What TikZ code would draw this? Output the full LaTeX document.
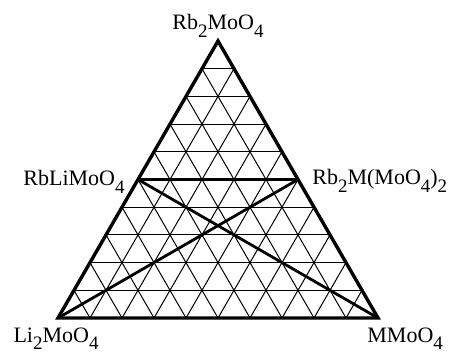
\documentclass[tikz,border=0pt]{standalone}
\usepackage{fontspec}
\setmainfont{Liberation Serif}
\usepackage{tikz}
\usetikzlibrary{calc,positioning}
% large, low subscripts as in the printed figure
\newcommand{\sbs}[1]{\raisebox{-3.8pt}{\fontsize{9.5}{10}\selectfont#1}}

\begin{document}
\begin{tikzpicture}[
  x=0.5pt, y=0.5pt,
  grid/.style={draw=black, line width=0.5pt},
  edge/.style={draw=black, line width=1.7pt, line join=miter},
  tieline/.style={draw=black, line width=1.4pt},
  lbl/.style={inner sep=0, font=\fontsize{11}{13}\selectfont}
]
\useasboundingbox (0,0) rectangle (458,352);
% corners of the composition triangle
\coordinate (li) at (58,34);
\coordinate (m) at (378,34);
\coordinate (rb) at (218,311);
\coordinate (rbli) at ($(li)!0.5!(rb)$);
\coordinate (rbm) at ($(m)!0.5!(rb)$);

% 10 % grid
\foreach \i in {1,...,9}{
  \draw[grid] ($(li)!\i/10!(rb)$) -- ($(m)!\i/10!(rb)$);
  \draw[grid] ($(li)!\i/10!(m)$) -- ($(rb)!\i/10!(m)$);
  \draw[grid] ($(m)!\i/10!(li)$) -- ($(rb)!\i/10!(li)$);
}

% tie lines between the phases
\draw[tieline] (rbli) -- (rbm);
\draw[tieline] (rbli) -- (m);
\draw[tieline] (rbm) -- (li);
\draw[edge] (li) -- (m) -- (rb) -- cycle;

% labels
\node[lbl, anchor=base] (nrb) at ($(rb)+(0,11)$) {Rb\sbs{2}MoO\sbs{4}};
\node[lbl, anchor=base east] (nrbli) at ($(rbli)+(-13,-6)$) {RbLiMoO\sbs{4}};
\node[lbl, anchor=base west] (nrbm) at ($(rbm)+(14,-5)$) {Rb\sbs{2}M(MoO\sbs{4})\sbs{2}};
\node[lbl, anchor=base] (nli) at ($(li)+(-2,-24)$) {Li\sbs{2}MoO\sbs{4}};
\node[lbl, anchor=base west] (nm) at ($(m)+(-11,-24)$) {MMoO\sbs{4}};
\end{tikzpicture}
\end{document}
